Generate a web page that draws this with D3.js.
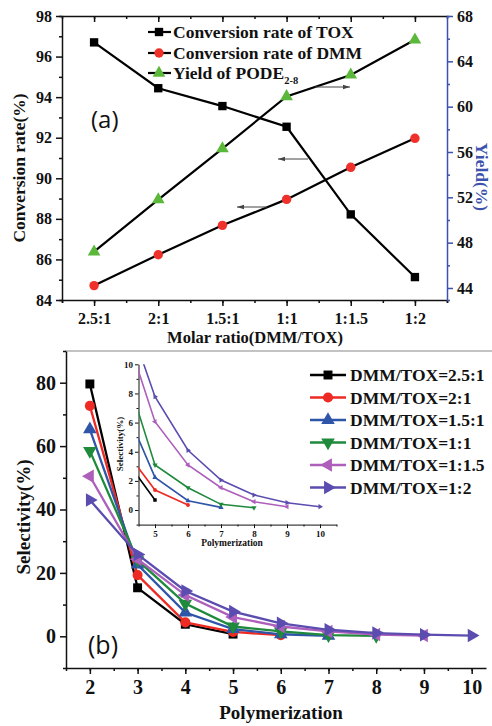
<!DOCTYPE html>
<html>
<head>
<meta charset="utf-8">
<script src="https://cdn.jsdelivr.net/npm/d3@7"></script>
<style>
  body { margin: 0; background: #fff; }
  svg { display: block; }
</style>
</head>
<body>
<div id="chart"></div>
<script>
// panel (a) data
const ratios = ["2.5:1", "2:1", "1.5:1", "1:1", "1:1.5", "1:2"];
const toxConv = [96.70, 94.44, 93.56, 92.54, 88.22, 85.13];
const dmmConv = [84.71, 86.23, 87.68, 88.96, 90.54, 91.97];
const podeYield = [47.2, 51.8, 56.3, 60.9, 62.8, 65.9];

// panel (b) data, polymerization degree n = 2..
const degrees = [2, 3, 4, 5, 6, 7, 8, 9, 10];
const selNames = ["DMM/TOX=2.5:1", "DMM/TOX=2:1", "DMM/TOX=1.5:1", "DMM/TOX=1:1", "DMM/TOX=1:1.5", "DMM/TOX=1:2"];
const sel25 = [79.6, 15.3, 3.8, 0.69];
const sel2 = [72.7, 19.3, 4.4, 1.37, 0.34];
const sel15 = [65.3, 22.6, 7.5, 2.24, 0.64, 0.18];
const sel1 = [58.5, 24.0, 10.3, 3.09, 1.53, 0.39, 0.16];
const sel115 = [50.5, 24.3, 13.0, 6.06, 3.09, 1.53, 0.57, 0.23];
const sel12 = [43.0, 25.8, 14.3, 7.78, 4.1, 2.06, 1.03, 0.5, 0.23];

const W = 492, H = 726;
const serif = "Liberation Serif, Times New Roman, serif";
const svg = d3.select("#chart").append("svg").attr("width", W).attr("height", H);

// ---------- panel (a) ----------
const xA = d3.scaleLinear().domain([0.5, 6.5]).range([62, 447]);
const yA = d3.scaleLinear().domain([84, 98]).range([300, 16]);
const yA2 = d3.scaleLinear().domain([42.94, 68]).range([300, 16]);
const blue = "#3c52ad";

const a = svg.append("g");

function styleAxis(g, color, size) {
  g.selectAll("path, line").attr("stroke", color).attr("stroke-width", 1.5);
  g.selectAll("text").attr("font-family", serif).attr("font-weight", "bold")
    .attr("font-size", size).attr("fill", "#111");
}

// bottom
a.append("g").attr("transform", "translate(0,300)")
  .call(d3.axisBottom(xA).tickValues(d3.range(0.5, 6.6, 0.5)).tickSize(3).tickFormat(""))
  .call(g => styleAxis(g, "#111", 16));
a.append("g").attr("transform", "translate(0,300)")
  .call(d3.axisBottom(xA).tickValues(d3.range(1, 7)).tickSize(6).tickPadding(7).tickFormat(i => ratios[i - 1]))
  .call(g => styleAxis(g, "#111", 16))
  .call(g => g.select(".domain").remove());
// top, ticks inward
a.append("g").attr("transform", "translate(0,16)")
  .call(d3.axisBottom(xA).tickValues(d3.range(0.5, 6.6, 0.5)).tickSizeInner(3).tickSizeOuter(0).tickFormat(""))
  .call(g => styleAxis(g, "#111", 16));
a.append("g").attr("transform", "translate(0,16)")
  .call(d3.axisBottom(xA).tickValues(d3.range(1, 7)).tickSize(6).tickFormat(""))
  .call(g => styleAxis(g, "#111", 16))
  .call(g => g.select(".domain").remove());
// left
a.append("g").attr("transform", "translate(62,0)")
  .call(d3.axisLeft(yA).tickValues(d3.range(85, 98, 2)).tickSize(3).tickFormat(""))
  .call(g => styleAxis(g, "#111", 16));
a.append("g").attr("transform", "translate(62,0)")
  .call(d3.axisLeft(yA).tickValues(d3.range(84, 99, 2)).tickSize(6).tickPadding(4).tickFormat(d3.format("d")))
  .call(g => styleAxis(g, "#111", 16))
  .call(g => g.select(".domain").remove());
// right (blue)
a.append("g").attr("transform", "translate(447,0)")
  .call(d3.axisRight(yA2).tickValues(d3.range(46, 68, 4)).tickSize(3).tickFormat(""))
  .call(g => styleAxis(g, blue, 16));
a.append("g").attr("transform", "translate(447,0)")
  .call(d3.axisRight(yA2).tickValues(d3.range(44, 69, 4)).tickSize(6).tickPadding(4).tickFormat(d3.format("d")))
  .call(g => styleAxis(g, blue, 16))
  .call(g => g.select(".domain").remove());

const lineA = (ys, sc) => d3.line().x((d, i) => xA(i + 1)).y(d => sc(d))(ys);
a.append("path").attr("d", lineA(toxConv, yA)).attr("fill", "none").attr("stroke", "#000").attr("stroke-width", 2.2);
a.append("path").attr("d", lineA(dmmConv, yA)).attr("fill", "none").attr("stroke", "#000").attr("stroke-width", 2.2);
a.append("path").attr("d", lineA(podeYield, yA2)).attr("fill", "none").attr("stroke", "#000").attr("stroke-width", 2.2);

const sqA = d3.symbol(d3.symbolSquare, 70);
const ciA = d3.symbol(d3.symbolCircle, 70);
const trA = d3.symbol(d3.symbolTriangle, 70);
a.selectAll(".tox").data(toxConv).join("path")
  .attr("d", sqA).attr("transform", (d, i) => `translate(${xA(i + 1)},${yA(d)})`).attr("fill", "#000");
a.selectAll(".dmm").data(dmmConv).join("path")
  .attr("d", ciA).attr("transform", (d, i) => `translate(${xA(i + 1)},${yA(d)})`).attr("fill", "#f0302a");
a.selectAll(".pode").data(podeYield).join("path")
  .attr("d", trA).attr("transform", (d, i) => `translate(${xA(i + 1)},${yA2(d)})`).attr("fill", "#5cb83a");

// arrows showing which axis each line uses
const arrows = [[315, 350, 87], [308, 278, 159], [267, 237, 207]];
arrows.forEach(([x1, x2, y]) => {
  a.append("line").attr("x1", x1).attr("x2", x2).attr("y1", y).attr("y2", y)
    .attr("stroke", "#444").attr("stroke-width", 1);
  const dir = Math.sign(x2 - x1);
  a.append("path").attr("d", `M${x2},${y}L${x2 - dir * 7},${y - 2.2}L${x2 - dir * 7},${y + 2.2}Z`).attr("fill", "#444");
});

// legend (a)
const legA = [
  { sym: sqA, col: "#000", text: "Conversion rate of TOX", y: 32 },
  { sym: ciA, col: "#f0302a", text: "Conversion rate of DMM", y: 53 },
  { sym: trA, col: "#5cb83a", text: "Yield of PODE", sub: "2-8", y: 73 }
];
legA.forEach(l => {
  a.append("line").attr("x1", 148).attr("x2", 171).attr("y1", l.y).attr("y2", l.y)
    .attr("stroke", "#000").attr("stroke-width", 2.2);
  a.append("path").attr("d", l.sym).attr("transform", `translate(159,${l.y})`).attr("fill", l.col);
  const t = a.append("text").attr("x", 173).attr("y", l.y + 6)
    .attr("font-family", serif).attr("font-weight", "bold").attr("font-size", 17.5).attr("fill", "#111")
    .text(l.text);
  if (l.sub) t.append("tspan").attr("dy", 5).attr("font-size", 10.5).text(l.sub);
});

a.append("text").attr("x", 91).attr("y", 128).attr("font-family", "Open Sans, sans-serif")
  .attr("font-size", 24).attr("fill", "#111").text("(a)");

a.append("text").attr("transform", "translate(25,168) rotate(-90)").attr("text-anchor", "middle")
  .attr("font-family", serif).attr("font-weight", "bold").attr("font-size", 17.5).attr("fill", "#111")
  .text("Conversion rate(%)");
a.append("text").attr("transform", "translate(476,177) rotate(90)").attr("text-anchor", "middle")
  .attr("font-family", serif).attr("font-weight", "bold").attr("font-size", 17.5).attr("fill", blue)
  .text("Yield(%)");
a.append("text").attr("x", 255).attr("y", 343).attr("text-anchor", "middle")
  .attr("font-family", serif).attr("font-weight", "bold").attr("font-size", 16.5).attr("fill", "#111")
  .text("Molar ratio(DMM/TOX)");

// separator / top frame of (b)
svg.append("line").attr("x1", 65).attr("x2", W).attr("y1", 351).attr("y2", 351)
  .attr("stroke", "#888").attr("stroke-width", 1.2);

// ---------- panel (b) ----------
const xB = d3.scaleLinear().domain([1.5, 10.3]).range([66, 486]);
const yB = d3.scaleLinear().domain([-10, 90]).range([668, 351]);
const colors = ["#000000", "#ee2a24", "#2f55a8", "#1f8a3c", "#ad5fbb", "#5b4db0"];
const series = [sel25, sel2, sel15, sel1, sel115, sel12];
const b = svg.append("g");

b.append("g").attr("transform", "translate(0,668)")
  .call(d3.axisBottom(xB).tickValues(d3.range(1.5, 10.1, 0.5)).tickSize(3).tickSizeOuter(0).tickFormat(""))
  .call(g => styleAxis(g, "#111", 20));
b.append("g").attr("transform", "translate(0,668)")
  .call(d3.axisBottom(xB).tickValues(degrees).tickSize(6).tickPadding(6).tickFormat(d3.format("d")))
  .call(g => styleAxis(g, "#111", 20))
  .call(g => g.select(".domain").remove());
b.append("g").attr("transform", "translate(66,0)")
  .call(d3.axisLeft(yB).tickValues(d3.range(-10, 91, 20)).tickSize(3).tickSizeOuter(0).tickFormat(""))
  .call(g => styleAxis(g, "#111", 20));
b.append("g").attr("transform", "translate(66,0)")
  .call(d3.axisLeft(yB).tickValues(d3.range(0, 81, 20)).tickSize(6).tickPadding(4).tickFormat(d3.format("d")))
  .call(g => styleAxis(g, "#111", 20))
  .call(g => g.select(".domain").remove());

function markerPath(k, size) {
  if (k === 0) return d3.symbol(d3.symbolSquare, size)();
  if (k === 1) return d3.symbol(d3.symbolCircle, size)();
  return d3.symbol(d3.symbolTriangle, size)();
}
const rot = [0, 0, 0, 180, -90, 90];

series.forEach((s, k) => {
  const line = d3.line().x((d, i) => xB(degrees[i])).y(d => yB(d));
  b.append("path").attr("d", line(s)).attr("fill", "none").attr("stroke", colors[k]).attr("stroke-width", 2.3);
  b.selectAll(null).data(s).join("path")
    .attr("d", markerPath(k, 80))
    .attr("transform", (d, i) => `translate(${xB(degrees[i])},${yB(d)}) rotate(${rot[k]})`)
    .attr("fill", colors[k]);
});

// inset
const xI = d3.scaleLinear().domain([4.5, 10.5]).range([138.5, 336.5]);
const yI = d3.scaleLinear().domain([-1, 10]).range([524.6, 364.3]);
const ins = b.append("g");
ins.append("rect").attr("x", 138.5).attr("y", 364).attr("width", 198).attr("height", 160.6).attr("fill", "#fff");
svg.append("defs").append("clipPath").attr("id", "insClip")
  .append("rect").attr("x", 138.5).attr("y", 364.3).attr("width", 198).attr("height", 160.3);

ins.append("g").attr("transform", "translate(0,524.6)")
  .call(d3.axisBottom(xI).tickValues(d3.range(4.5, 10.6, 0.5)).tickSize(2).tickSizeOuter(0).tickFormat(""))
  .call(g => styleAxis(g, "#111", 9));
ins.append("g").attr("transform", "translate(0,524.6)")
  .call(d3.axisBottom(xI).tickValues(d3.range(5, 11)).tickSize(3.5).tickPadding(3).tickFormat(d3.format("d")))
  .call(g => styleAxis(g, "#111", 9))
  .call(g => g.select(".domain").remove());
ins.append("g").attr("transform", "translate(138.5,0)")
  .call(d3.axisLeft(yI).tickValues(d3.range(-1, 10, 2)).tickSize(2).tickSizeOuter(0).tickFormat(""))
  .call(g => styleAxis(g, "#111", 9));
ins.append("g").attr("transform", "translate(138.5,0)")
  .call(d3.axisLeft(yI).tickValues(d3.range(0, 11, 2)).tickSize(3.5).tickPadding(2).tickFormat(d3.format("d")))
  .call(g => styleAxis(g, "#111", 9))
  .call(g => g.select(".domain").remove());
ins.selectAll(".tick line, .domain").attr("stroke-width", 1);

const insPlot = ins.append("g").attr("clip-path", "url(#insClip)");
series.forEach((s, k) => {
  const line = d3.line().x((d, i) => xI(degrees[i])).y(d => yI(d));
  insPlot.append("path").attr("d", line(s)).attr("fill", "none").attr("stroke", colors[k]).attr("stroke-width", 1.6);
  insPlot.selectAll(null).data(s).join("path")
    .attr("d", markerPath(k, 12))
    .attr("transform", (d, i) => `translate(${xI(degrees[i])},${yI(d)}) rotate(${rot[k]})`)
    .attr("fill", colors[k]);
});
ins.append("text").attr("transform", "translate(123,444) rotate(-90)").attr("text-anchor", "middle")
  .attr("font-family", serif).attr("font-weight", "bold").attr("font-size", 9).attr("fill", "#111")
  .text("Selectivity(%)");
ins.append("text").attr("x", 232).attr("y", 546).attr("text-anchor", "middle")
  .attr("font-family", serif).attr("font-weight", "bold").attr("font-size", 9.5).attr("fill", "#111")
  .text("Polymerization");

// legend (b)
selNames.forEach((name, k) => {
  const y = 375 + k * 22.5;
  b.append("line").attr("x1", 310).attr("x2", 346).attr("y1", y).attr("y2", y)
    .attr("stroke", colors[k]).attr("stroke-width", 2.3);
  b.append("path").attr("d", markerPath(k, 80)).attr("transform", `translate(328,${y}) rotate(${rot[k]})`)
    .attr("fill", colors[k]);
  b.append("text").attr("x", 350).attr("y", y + 6)
    .attr("font-family", serif).attr("font-weight", "bold").attr("font-size", 17.5).attr("fill", "#111")
    .text(name);
});

b.append("text").attr("x", 88).attr("y", 654).attr("font-family", "Open Sans, sans-serif")
  .attr("font-size", 25).attr("fill", "#111").text("(b)");
b.append("text").attr("transform", "translate(30,517) rotate(-90)").attr("text-anchor", "middle")
  .attr("font-family", serif).attr("font-weight", "bold").attr("font-size", 19).attr("fill", "#111")
  .text("Selectivity(%)");
b.append("text").attr("x", 281).attr("y", 719).attr("text-anchor", "middle")
  .attr("font-family", serif).attr("font-weight", "bold").attr("font-size", 19).attr("fill", "#111")
  .text("Polymerization");
</script>
</body>
</html>
